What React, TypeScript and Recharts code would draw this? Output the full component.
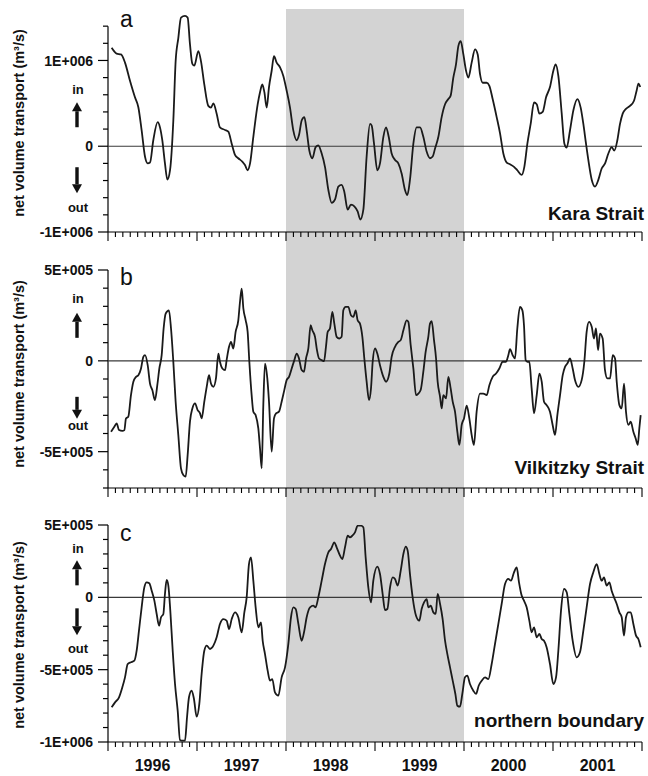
import React from 'react'
import { LineChart, Line, XAxis, YAxis, ReferenceArea, ReferenceLine } from 'recharts'

// Net volume transport through the three open boundaries, m³/s
const KARA_YEARS = [
  1996.041, 1996.097, 1996.146, 1996.191, 1996.247, 1996.303, 1996.341, 1996.378, 1996.416, 1996.446,
  1996.472, 1996.509, 1996.558, 1996.584, 1996.61, 1996.64, 1996.667, 1996.697, 1996.734, 1996.76,
  1996.79, 1996.82, 1996.865, 1996.895, 1996.921, 1996.948, 1996.97, 1997.015, 1997.045, 1997.082,
  1997.127, 1997.157, 1997.184, 1997.221, 1997.258, 1997.315, 1997.352, 1997.39, 1997.427, 1997.464,
  1997.509, 1997.539, 1997.569, 1997.596, 1997.633, 1997.682, 1997.708, 1997.734, 1997.757, 1997.783,
  1997.809, 1997.839, 1997.865, 1997.895, 1997.933, 1997.97, 1998.007, 1998.045, 1998.082, 1998.12,
  1998.146, 1998.176, 1998.206, 1998.232, 1998.262, 1998.296, 1998.333, 1998.363, 1998.401, 1998.438,
  1998.476, 1998.513, 1998.551, 1998.588, 1998.625, 1998.655, 1998.693, 1998.73, 1998.768, 1998.805,
  1998.835, 1998.869, 1998.906, 1998.944, 1998.963, 1998.989, 1999.026, 1999.056, 1999.094, 1999.124,
  1999.154, 1999.187, 1999.225, 1999.262, 1999.3, 1999.337, 1999.363, 1999.393, 1999.431, 1999.468,
  1999.506, 1999.543, 1999.581, 1999.618, 1999.648, 1999.674, 1999.712, 1999.749, 1999.787, 1999.824,
  1999.85, 1999.88, 1999.91, 1999.937, 1999.963, 1999.993, 2000.023, 2000.049, 2000.086, 2000.124,
  2000.154, 2000.18, 2000.21, 2000.255, 2000.285, 2000.322, 2000.367, 2000.405, 2000.442, 2000.48,
  2000.517, 2000.562, 2000.599, 2000.648, 2000.678, 2000.712, 2000.749, 2000.787, 2000.817, 2000.847,
  2000.884, 2000.922, 2000.966, 2001.004, 2001.03, 2001.06, 2001.098, 2001.128, 2001.154, 2001.191,
  2001.229, 2001.274, 2001.311, 2001.341, 2001.371, 2001.397, 2001.435, 2001.472, 2001.51, 2001.547,
  2001.585, 2001.622, 2001.659, 2001.689, 2001.723, 2001.753, 2001.783, 2001.82, 2001.865, 2001.91,
  2001.94, 2001.96, 2001.98,
]
const KARA_FLOW = [
  1.148e6, 1.08e6, 1.07e6, 0.975e6, 0.763e6, 0.57e6, 0.455e6, 0.185e6, -0.123e6, -0.2e6,
  -0.19e6, 0.07e6, 0.28e6, 0.22e6, 0.07e6, -0.2e6, -0.39e6, -0.28e6, 0.3e6, 0.99e6,
  1.26e6, 1.5e6, 1.52e6, 1.5e6, 1.19e6, 0.96e6, 0.94e6, 1.11e6, 0.99e6, 0.72e6,
  0.47e6, 0.45e6, 0.5e6, 0.38e6, 0.22e6, 0.19e6, 0.17e6, 0.03e6, -0.1e6, -0.14e6,
  -0.18e6, -0.22e6, -0.28e6, -0.2e6, 0.11e6, 0.49e6, 0.63e6, 0.72e6, 0.63e6, 0.45e6,
  0.69e6, 0.88e6, 1.05e6, 0.975e6, 0.92e6, 0.82e6, 0.65e6, 0.45e6, 0.185e6, 0.07e6,
  0.13e6, 0.3e6, 0.34e6, 0.185e6, -0.05e6, -0.14e6, -0.01e6, 0.01e6, -0.085e6, -0.24e6,
  -0.51e6, -0.66e6, -0.62e6, -0.47e6, -0.45e6, -0.53e6, -0.74e6, -0.68e6, -0.7e6, -0.76e6,
  -0.855e6, -0.74e6, -0.12e6, 0.26e6, 0.24e6, 0.03e6, -0.28e6, -0.2e6, 0.11e6, 0.22e6,
  0.11e6, -0.085e6, -0.16e6, -0.2e6, -0.32e6, -0.51e6, -0.57e6, -0.39e6, 0.03e6, 0.22e6,
  0.22e6, 0.11e6, -0.065e6, -0.14e6, -0.12e6, -0.03e6, 0.11e6, 0.34e6, 0.49e6, 0.55e6,
  0.59e6, 0.8e6, 0.955e6, 1.17e6, 1.225e6, 1.07e6, 0.88e6, 0.8e6, 0.975e6, 1.13e6,
  1.07e6, 0.84e6, 0.74e6, 0.74e6, 0.705e6, 0.55e6, 0.34e6, 0.15e6, -0.085e6, -0.19e6,
  -0.21e6, -0.24e6, -0.28e6, -0.335e6, -0.24e6, 0.03e6, 0.26e6, 0.51e6, 0.49e6, 0.38e6,
  0.4e6, 0.57e6, 0.69e6, 0.88e6, 0.955e6, 0.82e6, 0.38e6, 0.03e6, -0.015e6, 0.185e6,
  0.42e6, 0.55e6, 0.45e6, 0.26e6, 0.03e6, -0.16e6, -0.39e6, -0.47e6, -0.39e6, -0.26e6,
  -0.2e6, -0.085e6, -0.01e6, -0.05e6, 0.07e6, 0.26e6, 0.38e6, 0.435e6, 0.47e6, 0.53e6,
  0.65e6, 0.73e6, 0.69e6,
]

const VILK_YEARS = [
  1996.034, 1996.071, 1996.097, 1996.124, 1996.161, 1996.184, 1996.202, 1996.228, 1996.258, 1996.285,
  1996.315, 1996.341, 1996.371, 1996.397, 1996.416, 1996.446, 1996.472, 1996.498, 1996.528, 1996.554,
  1996.577, 1996.603, 1996.625, 1996.648, 1996.685, 1996.708, 1996.734, 1996.76, 1996.79, 1996.82,
  1996.846, 1996.873, 1996.895, 1996.921, 1996.948, 1996.978, 1997.007, 1997.034, 1997.052, 1997.082,
  1997.109, 1997.135, 1997.157, 1997.184, 1997.213, 1997.24, 1997.258, 1997.285, 1997.315, 1997.333,
  1997.36, 1997.382, 1997.408, 1997.434, 1997.464, 1997.483, 1997.502, 1997.521, 1997.547, 1997.569,
  1997.588, 1997.614, 1997.633, 1997.659, 1997.689, 1997.708, 1997.727, 1997.745, 1997.764, 1997.79,
  1997.809, 1997.839, 1997.865, 1997.888, 1997.921, 1997.951, 1997.981, 1998.007, 1998.034, 1998.064,
  1998.094, 1998.12, 1998.146, 1998.176, 1998.202, 1998.225, 1998.251, 1998.277, 1998.296, 1998.326,
  1998.348, 1998.371, 1998.401, 1998.427, 1998.449, 1998.468, 1998.494, 1998.521, 1998.543, 1998.569,
  1998.599, 1998.625, 1998.644, 1998.67, 1998.7, 1998.73, 1998.757, 1998.783, 1998.805, 1998.831,
  1998.858, 1998.88, 1998.906, 1998.933, 1998.955, 1998.974, 1999.0, 1999.026, 1999.056, 1999.094,
  1999.124, 1999.161, 1999.187, 1999.225, 1999.262, 1999.289, 1999.319, 1999.356, 1999.375, 1999.401,
  1999.431, 1999.461, 1999.487, 1999.513, 1999.543, 1999.569, 1999.599, 1999.618, 1999.637, 1999.663,
  1999.686, 1999.704, 1999.731, 1999.749, 1999.768, 1999.798, 1999.824, 1999.85, 1999.873, 1999.899,
  1999.925, 1999.948, 1999.974, 2000.0, 2000.03, 2000.06, 2000.086, 2000.112, 2000.142, 2000.18,
  2000.217, 2000.255, 2000.285, 2000.322, 2000.36, 2000.397, 2000.435, 2000.472, 2000.498, 2000.517,
  2000.547, 2000.573, 2000.599, 2000.629, 2000.656, 2000.674, 2000.693, 2000.712, 2000.734, 2000.76,
  2000.787, 2000.817, 2000.847, 2000.873, 2000.899, 2000.929, 2000.966, 2000.996, 2001.023, 2001.049,
  2001.079, 2001.109, 2001.135, 2001.161, 2001.191, 2001.221, 2001.247, 2001.285, 2001.322, 2001.352,
  2001.378, 2001.405, 2001.435, 2001.461, 2001.483, 2001.506, 2001.528, 2001.558, 2001.584, 2001.611,
  2001.641, 2001.671, 2001.697, 2001.716, 2001.746, 2001.772, 2001.798, 2001.82, 2001.847, 2001.873,
  2001.903, 2001.929, 2001.952, 2001.97, 2001.985,
]
const VILK_FLOW = [
  -3.9e5, -3.63e5, -3.44e5, -3.81e5, -3.86e5, -3.81e5, -3.17e5, -3.08e5, -1.89e5, -1.15e5,
  -0.88e5, -0.79e5, -0.42e5, 0.22e5, 0.31e5, -0.24e5, -1.25e5, -1.61e5, -2.16e5, -1.34e5,
  -0.42e5, 0.31e5, 1.78e5, 2.6e5, 2.78e5, 1.78e5, -0.05e5, -2.25e5, -4.08e5, -5.92e5,
  -6.28e5, -6.37e5, -5.18e5, -3.35e5, -2.62e5, -2.34e5, -2.71e5, -2.89e5, -3.17e5, -2.25e5,
  -1.43e5, -0.79e5, -1.25e5, -1.43e5, -0.97e5, 0.4e5, -0.05e5, -0.42e5, -0.51e5, 0.04e5,
  0.77e5, 1.04e5, 0.68e5, 1.59e5, 2.23e5, 3.24e5, 3.97e5, 2.88e5, 2.23e5, 1.59e5,
  -0.05e5, -1.89e5, -2.8e5, -2.99e5, -3.72e5, -4.82e5, -5.92e5, -2.44e5, -0.15e5, -0.97e5,
  -2.25e5, -5.0e5, -3.17e5, -2.89e5, -2.8e5, -2.25e5, -1.61e5, -1.06e5, -0.88e5, -0.42e5,
  0.04e5, 0.4e5, 0.13e5, -0.51e5, -0.6e5, 0.13e5, 0.68e5, 1.96e5, 1.68e5, 1.32e5,
  0.59e5, 0.13e5, 0.04e5, -0.02e5, 0.77e5, 1.59e5, 1.78e5, 2.69e5, 2.05e5, 1.32e5,
  1.23e5, 1.32e5, 2.78e5, 2.97e5, 2.97e5, 2.51e5, 2.42e5, 2.78e5, 2.23e5, 2.05e5,
  1.32e5, 0.13e5, -1.15e5, -2.16e5, -1.52e5, -0.05e5, 0.68e5, 0.4e5, -0.24e5, -0.88e5,
  -1.15e5, -0.7e5, 0.22e5, 0.77e5, 1.04e5, 1.14e5, 1.68e5, 2.23e5, 2.14e5, 0.86e5,
  -0.42e5, -1.89e5, -1.8e5, -1.61e5, -0.6e5, 0.49e5, 1.32e5, 2.05e5, 2.18e5, 1.14e5,
  0.13e5, -1.15e5, -1.98e5, -2.62e5, -1.89e5, -2.07e5, -0.88e5, -1.52e5, -2.25e5, -2.8e5,
  -3.9e5, -4.63e5, -3.53e5, -3.17e5, -2.47e5, -3.17e5, -4.08e5, -4.63e5, -2.8e5, -1.8e5,
  -1.8e5, -1.89e5, -1.34e5, -0.88e5, -0.7e5, -0.42e5, -0.05e5, -0.05e5, 0.31e5, 0.64e5,
  0.31e5, 0.13e5, 1.78e5, 2.97e5, 2.78e5, 1.96e5, 0.04e5, -0.05e5, -0.05e5, -1.52e5,
  -2.89e5, -1.89e5, -0.7e5, -1.15e5, -2.25e5, -2.44e5, -2.8e5, -3.53e5, -4.08e5, -2.99e5,
  -1.89e5, -0.79e5, -0.33e5, -0.15e5, 0.13e5, -0.42e5, -1.06e5, -1.43e5, -1.06e5, -0.05e5,
  1.59e5, 2.14e5, 1.87e5, 1.23e5, 1.78e5, 0.59e5, 1.5e5, 1.23e5, -0.51e5, -0.97e5,
  -0.97e5, 0.31e5, 0.13e5, -1.15e5, -2.44e5, -2.62e5, -1.25e5, -2.8e5, -3.53e5, -3.35e5,
  -3.9e5, -4.27e5, -4.63e5, -3.72e5, -2.99e5,
]

const NORTH_YEARS = [
  1996.041, 1996.079, 1996.124, 1996.161, 1996.191, 1996.221, 1996.258, 1996.296, 1996.322, 1996.348,
  1996.378, 1996.408, 1996.434, 1996.464, 1996.491, 1996.521, 1996.547, 1996.573, 1996.596, 1996.622,
  1996.64, 1996.659, 1996.678, 1996.7, 1996.727, 1996.753, 1996.783, 1996.809, 1996.835, 1996.865,
  1996.888, 1996.91, 1996.94, 1996.966, 1996.996, 1997.026, 1997.052, 1997.082, 1997.109, 1997.146,
  1997.184, 1997.221, 1997.258, 1997.296, 1997.333, 1997.36, 1997.39, 1997.427, 1997.464, 1997.502,
  1997.532, 1997.558, 1997.584, 1997.607, 1997.633, 1997.659, 1997.689, 1997.719, 1997.738, 1997.764,
  1997.794, 1997.82, 1997.846, 1997.876, 1997.914, 1997.951, 1997.989, 1998.026, 1998.056, 1998.082,
  1998.109, 1998.139, 1998.176, 1998.206, 1998.232, 1998.27, 1998.307, 1998.333, 1998.363, 1998.401,
  1998.438, 1998.476, 1998.506, 1998.543, 1998.569, 1998.607, 1998.633, 1998.663, 1998.693, 1998.719,
  1998.745, 1998.775, 1998.805, 1998.843, 1998.869, 1998.895, 1998.925, 1998.955, 1998.981, 1999.026,
  1999.056, 1999.086, 1999.112, 1999.139, 1999.169, 1999.199, 1999.225, 1999.255, 1999.289, 1999.319,
  1999.345, 1999.367, 1999.393, 1999.423, 1999.461, 1999.498, 1999.524, 1999.551, 1999.581, 1999.599,
  1999.626, 1999.656, 1999.682, 1999.704, 1999.731, 1999.76, 1999.787, 1999.813, 1999.843, 1999.873,
  1999.903, 1999.925, 1999.955, 1999.981, 2000.011, 2000.037, 2000.067, 2000.105, 2000.135, 2000.165,
  2000.199, 2000.236, 2000.274, 2000.311, 2000.348, 2000.386, 2000.423, 2000.461, 2000.498, 2000.528,
  2000.562, 2000.592, 2000.618, 2000.648, 2000.674, 2000.704, 2000.734, 2000.76, 2000.787, 2000.817,
  2000.847, 2000.873, 2000.899, 2000.929, 2000.966, 2001.004, 2001.034, 2001.06, 2001.09, 2001.124,
  2001.154, 2001.184, 2001.221, 2001.266, 2001.303, 2001.341, 2001.378, 2001.416, 2001.453, 2001.491,
  2001.521, 2001.547, 2001.573, 2001.603, 2001.633, 2001.659, 2001.686, 2001.716, 2001.746, 2001.772,
  2001.798, 2001.82, 2001.847, 2001.873, 2001.903, 2001.933, 2001.959, 2001.985,
]
const NORTH_FLOW = [
  -7.6e5, -7.26e5, -6.91e5, -6.22e5, -5.53e5, -4.61e5, -4.49e5, -4.38e5, -3.69e5, -2.3e5,
  -0.69e5, 0.69e5, 1.04e5, 0.97e5, 0.46e5, -0.23e5, -1.15e5, -1.96e5, -1.38e5, -1.15e5,
  0.23e5, 1.2e5, 0.81e5, -0.92e5, -3.69e5, -5.99e5, -7.83e5, -9.86e5, -9.91e5, -9.91e5,
  -8.29e5, -6.91e5, -6.45e5, -7.03e5, -8.25e5, -7.37e5, -5.3e5, -3.69e5, -3.34e5, -3.57e5,
  -3.34e5, -2.76e5, -1.84e5, -1.5e5, -1.61e5, -2.19e5, -1.5e5, -1.04e5, -1.38e5, -2.42e5,
  -1.04e5, 0.0, 2.3e5, 2.76e5, 1.15e5, -0.69e5, -2.07e5, -1.73e5, -3.0e5, -3.92e5,
  -5.07e5, -5.76e5, -5.65e5, -6.57e5, -6.8e5, -5.53e5, -4.84e5, -3.23e5, -1.38e5, -0.69e5,
  -0.81e5, -1.84e5, -3.0e5, -2.3e5, -1.38e5, -0.69e5, -0.58e5, -0.69e5, 0.0, 1.15e5,
  2.3e5, 3.11e5, 3.34e5, 3.8e5, 3.46e5, 2.88e5, 2.65e5, 3.46e5, 4.26e5, 4.15e5,
  4.26e5, 4.49e5, 4.95e5, 4.95e5, 4.84e5, 2.76e5, 0.69e5, -0.35e5, 1.15e5, 2.12e5,
  1.61e5, 0.23e5, -0.88e5, -0.81e5, 0.69e5, 1.38e5, 1.27e5, 0.81e5, 1.84e5, 3.0e5,
  3.5e5, 3.23e5, 1.61e5, 0.0, -1.27e5, -1.61e5, -0.81e5, -0.35e5, -0.12e5, -0.69e5,
  -0.58e5, -1.04e5, -1.15e5, 0.23e5, -0.46e5, -1.5e5, -3.0e5, -3.92e5, -4.84e5, -5.76e5,
  -6.68e5, -7.49e5, -7.56e5, -6.68e5, -5.53e5, -5.41e5, -5.99e5, -6.45e5, -6.68e5, -6.11e5,
  -5.76e5, -5.53e5, -5.65e5, -4.61e5, -3.23e5, -1.84e5, -0.46e5, 0.92e5, 1.27e5, 1.15e5,
  1.73e5, 2.07e5, 1.04e5, 0.12e5, -0.23e5, -0.69e5, -1.61e5, -2.42e5, -2.07e5, -2.76e5,
  -2.53e5, -2.88e5, -3.0e5, -3.46e5, -4.61e5, -5.99e5, -5.53e5, -3.69e5, -0.92e5, 0.58e5,
  0.35e5, -1.15e5, -3.0e5, -4.15e5, -3.8e5, -2.3e5, -0.69e5, 0.92e5, 1.73e5, 2.3e5,
  1.61e5, 1.15e5, 1.38e5, 0.81e5, 1.04e5, 0.46e5, 0.0, -0.46e5, -1.04e5, -1.38e5,
  -2.65e5, -1.38e5, -1.04e5, -1.04e5, -1.84e5, -2.65e5, -2.88e5, -3.45e5,
]

// x axis: one long tick per year boundary, monthly minor ticks, year label mid-year
const YEARS = [1996, 1997, 1998, 1999, 2000, 2001]
const X_END = 2002
const X_TICKS = [...YEARS.flatMap(y => Array.from({ length: 12 }, (_, m) => y + m / 12)), X_END]

// grey band: 1998–1999
const SHADE = [1998, 2000]

const KARA_TICKS = [-1e6, -8e5, -6e5, -4e5, -2e5, 0, 2e5, 4e5, 6e5, 8e5, 1e6, 1.2e6, 1.4e6]
const KARA_LABELED = [-1e6, 0, 1e6]
const VILK_TICKS = [-7e5, -6e5, -5e5, -4e5, -3e5, -2e5, -1e5, 0, 1e5, 2e5, 3e5, 4e5, 5e5]
const VILK_LABELED = [-5e5, 0, 5e5]
const NORTH_TICKS = [-1e6, -9e5, -8e5, -7e5, -6e5, -5e5, -4e5, -3e5, -2e5, -1e5, 0, 1e5, 2e5, 3e5, 4e5, 5e5]
const NORTH_LABELED = [-1e6, -5e5, 0, 5e5]

const FONT = '"Liberation Sans", Arial, Helvetica, sans-serif'
const INK = '#111'
const WIDTH = 648
const AXIS_W = 108

interface Panel {
  letter: string
  name: string
  years: number[]
  flow: number[]
  domain: [number, number]
  ticks: number[]
  labeled: number[]
  shadeBottom: number
  height: number
  marginTop: number
  xAxisHeight: number
  showYears: boolean
  // text / arrow placement relative to the chart box
  titleY: number
  letterY: number
  nameY: number
  inY: number
  up: [number, number]
  down: [number, number]
  outY: number
}

const PANELS: Panel[] = [
  {
    letter: 'a', name: 'Kara Strait', years: KARA_YEARS, flow: KARA_FLOW,
    domain: [-1e6, 1.6e6], ticks: KARA_TICKS, labeled: KARA_LABELED, shadeBottom: -1.47e6,
    height: 270, marginTop: 9, xAxisHeight: 38, showYears: false,
    titleY: 123, letterY: 27, nameY: 220, inY: -57, up: [-44, -19], down: [21, 47], outY: 61,
  },
  {
    letter: 'b', name: 'Vilkitzky Strait', years: VILK_YEARS, flow: VILK_FLOW,
    domain: [-7e5, 5e5], ticks: VILK_TICKS, labeled: VILK_LABELED, shadeBottom: -9.2e5,
    height: 255, marginTop: 0, xAxisHeight: 37, showYears: false,
    titleY: 104, letterY: 15, nameY: 204, inY: -62, up: [-48, -23], down: [36, 58], outY: 65,
  },
  {
    letter: 'c', name: 'northern boundary', years: NORTH_YEARS, flow: NORTH_FLOW,
    domain: [-1e6, 5e5], ticks: NORTH_TICKS, labeled: NORTH_LABELED, shadeBottom: -1e6,
    height: 251, marginTop: 0, xAxisHeight: 34, showYears: true,
    titleY: 110, letterY: 16, nameY: 202, inY: -49, up: [-37, -12], down: [11, 38], outY: 51,
  },
]

const sci = (v: number) =>
  v === 0 ? '0' : v.toExponential(0).toUpperCase().replace(/E([+-])(\d+)/, (_, s, d) => 'E' + s + d.padStart(3, '0'))

const YTick = (props: any) => {
  const { x, y, payload, labeled } = props
  const major = labeled.includes(payload.value)
  return (
    <g>
      <line x1={x - (major ? 10 : 5)} x2={x} y1={y} y2={y} stroke="#000" strokeWidth={1.2} />
      {major && (
        <text x={x - 15} y={y} dy="0.36em" textAnchor="end" fontFamily={FONT} fontWeight={700} fontSize={14} fill={INK}>
          {sci(payload.value)}
        </text>
      )}
    </g>
  )
}

const XTick = (props: any) => {
  const { x, y, payload, showYears } = props
  const v = payload.value
  const major = Math.abs(v - Math.round(v)) < 1e-6
  const mid = Math.abs(v - Math.floor(v) - 0.5) < 1e-6
  return (
    <g>
      <line x1={x} x2={x} y1={y} y2={y + (major ? 9 : 5)} stroke="#000" strokeWidth={1.1} />
      {showYears && mid && (
        <text x={x} y={y + 29} textAnchor="middle" fontFamily={FONT} fontWeight={700} fontSize={16} fill={INK}>
          {Math.floor(v)}
        </text>
      )}
    </g>
  )
}

function Arrow({ x, tail, tip }: { x: number; tail: number; tip: number }) {
  const dir = tip < tail ? -1 : 1
  const head = 9
  const base = tip - dir * head
  return (
    <g fill={INK}>
      <rect x={x - 1.7} width={3.4} y={Math.min(tail, base)} height={Math.abs(base - tail)} />
      <polygon points={`${x - 5},${base} ${x + 5},${base} ${x},${tip}`} />
    </g>
  )
}

function PanelChart({ p }: { p: Panel }) {
  const rows = p.years.map((year, i) => ({ year, flow: p.flow[i] }))
  const plotH = p.height - p.marginTop - p.xAxisHeight
  const [lo, hi] = p.domain
  const zeroY = p.marginTop + (plotH * hi) / (hi - lo)
  const textProps = { fontFamily: FONT, fontWeight: 700, fill: INK, textAnchor: 'middle' as const }

  return (
    <div style={{ position: 'relative', width: WIDTH, height: p.height }}>
      <LineChart width={WIDTH} height={p.height} data={rows} margin={{ top: p.marginTop, right: 6, bottom: 0, left: 0 }}>
        <ReferenceArea
          x1={SHADE[0]}
          x2={SHADE[1]}
          y1={p.shadeBottom}
          y2={hi}
          fill="#d3d3d3"
          fillOpacity={1}
          stroke="none"
          ifOverflow="visible"
        />
        <XAxis
          type="number"
          dataKey="year"
          domain={[YEARS[0], X_END]}
          allowDataOverflow
          ticks={X_TICKS}
          interval={0}
          height={p.xAxisHeight}
          axisLine={{ stroke: '#000', strokeWidth: 1.2 }}
          tickLine={false}
          tickSize={0}
          tickMargin={0}
          tick={(t: any) => <XTick {...t} showYears={p.showYears} />}
        />
        <YAxis
          type="number"
          domain={p.domain}
          allowDataOverflow
          width={AXIS_W}
          ticks={p.ticks}
          interval={0}
          axisLine={false}
          tickLine={false}
          tickSize={0}
          tickMargin={0}
          tick={(t: any) => <YTick {...t} labeled={p.labeled} />}
        />
        <ReferenceLine
          segment={[{ x: YEARS[0], y: p.ticks[0] }, { x: YEARS[0], y: p.ticks[p.ticks.length - 1] }]}
          stroke="#000"
          strokeWidth={1.2}
          ifOverflow="visible"
        />
        <ReferenceLine y={0} stroke="#3a3a3a" strokeWidth={1.1} />
        <Line
          dataKey="flow"
          type="monotone"
          stroke="#1a1a1a"
          strokeWidth={1.8}
          dot={false}
          activeDot={false}
          isAnimationActive={false}
        />
      </LineChart>

      <svg width={WIDTH} height={p.height} style={{ position: 'absolute', left: 0, top: 0, overflow: 'visible', pointerEvents: 'none' }}>
        <text transform={`translate(19, ${p.titleY}) rotate(-90)`} dy="0.35em" fontSize={14.5} {...textProps}>
          net volume transport (m³/s)
        </text>
        <text x={78} y={zeroY + p.inY} dy="0.35em" fontSize={13} {...textProps}>in</text>
        <Arrow x={77} tail={zeroY + p.up[1]} tip={zeroY + p.up[0]} />
        <Arrow x={77} tail={zeroY + p.down[0]} tip={zeroY + p.down[1]} />
        <text x={78} y={zeroY + p.outY} dy="0.35em" fontSize={13} {...textProps}>out</text>
        <text x={120} y={p.letterY} fontFamily={FONT} fontSize={23} fill={INK}>{p.letter}</text>
        <text x={644} y={p.nameY} fontFamily={FONT} fontWeight={700} fontSize={19} fill={INK} textAnchor="end">
          {p.name}
        </text>
      </svg>
    </div>
  )
}

export default function App() {
  return (
    <div style={{ position: 'absolute', left: 0, top: 0, width: WIDTH, height: 776, background: '#fff', fontFamily: FONT }}>
      <style>{'.recharts-surface{overflow:visible}'}</style>
      {PANELS.map(p => (
        <PanelChart key={p.letter} p={p} />
      ))}
    </div>
  )
}
